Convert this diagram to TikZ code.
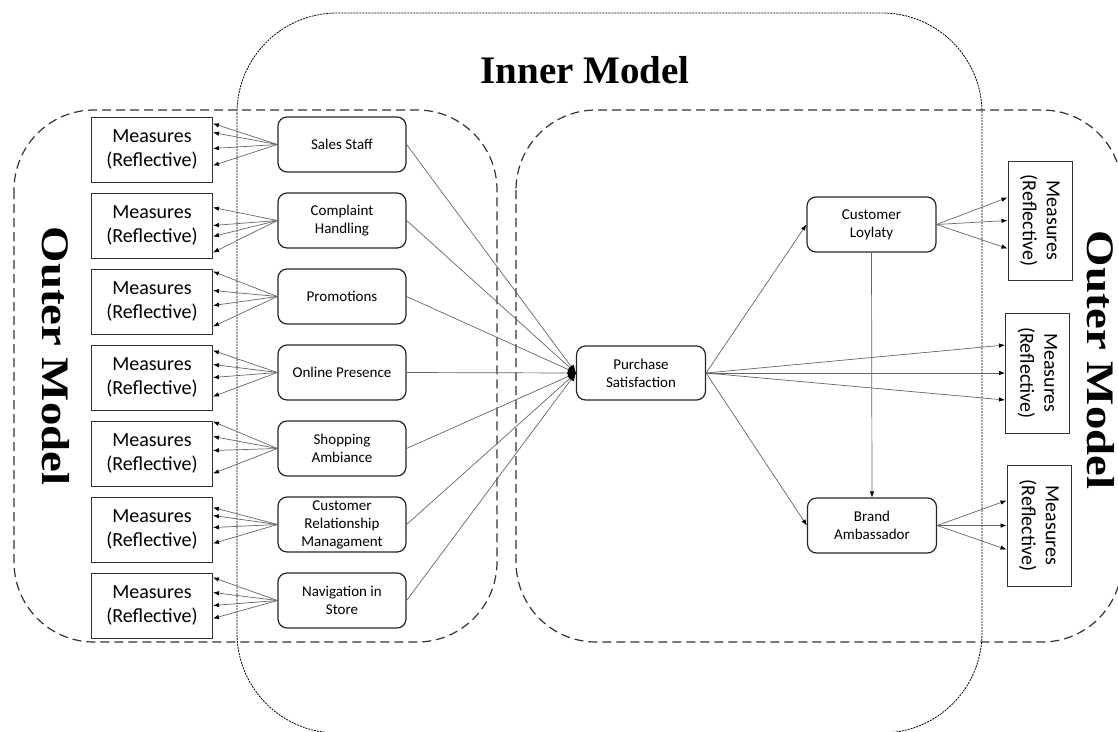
\documentclass[tikz,border=0pt]{standalone}
\usepackage{fontspec}
\setmainfont{Carlito}
\newfontfamily\titlefont{Liberation Serif}
\usetikzlibrary{arrows.meta}
\tikzset{
    measure/.style={draw=black!80, line width=1pt, fill=white, minimum width=121pt, minimum height=65pt,
            inner sep=0pt, align=center, font=\fontsize{20}{24}\selectfont},
    latent/.style={draw=black!85, line width=1.2pt, fill=white, rounded corners=9pt, minimum width=128pt,
            minimum height=55pt, inner sep=0pt, align=center, font=\fontsize{15}{18}\selectfont},
    link/.style={draw=black!60, line width=0.7pt, -{Latex[length=6pt,width=4.5pt,black]}},
    inpath/.style={link, -{Latex[length=8pt,width=7pt,black]}},
    outerbox/.style={draw=black!80, line width=1.2pt, dash pattern=on 9pt off 5pt, rounded corners=80pt},
    innerbox/.style={draw=black, line width=0.8pt, dash pattern=on 2pt off 1pt, rounded corners=100pt},
    modeltitle/.style={font=\titlefont\bfseries\fontsize{39}{39}\selectfont, inner sep=0pt}
}

\begin{document}
\begin{tikzpicture}[x=1pt,y=-1pt]

            \useasboundingbox (0,0) rectangle (1118,731);
            \clip (0,0) rectangle (1118,731);
            \fill[white] (0,0) rectangle (1118,731);

            % model regions
            \draw[innerbox] (237,13) rectangle (982,733);
            \draw[outerbox] (14,110) rectangle (497,642);
            \draw[outerbox] (516,110) rectangle (1122,642);

            \node[modeltitle] (inner) at (585,70) {Inner Model};
            \node[modeltitle, rotate=-90] (outerL) at (56,356) {\scalebox{1.2}[1]{Outer Model}};
            \node[modeltitle, rotate=-90] (outerR) at (1101,360) {\scalebox{1.2}[1]{Outer Model}};

            % left measures
            \node[measure] (m1) at (152,149.5) {Measures\\(Reflective)};
            \node[measure] (m2) at (152,225.5) {Measures\\(Reflective)};
            \node[measure] (m3) at (152,301.5) {Measures\\(Reflective)};
            \node[measure] (m4) at (152,377.5) {Measures\\(Reflective)};
            \node[measure] (m5) at (152,453.5) {Measures\\(Reflective)};
            \node[measure] (m6) at (152,529.5) {Measures\\(Reflective)};
            \node[measure] (m7) at (152,605.5) {Measures\\(Reflective)};

            % left constructs
            \node[latent] (sales) at (342,144.5) {Sales Staff};
            \node[latent] (complaint) at (342,220.5) {Complaint\\Handling};
            \node[latent] (promo) at (342,296.5) {Promotions};
            \node[latent] (online) at (342,372.5) {Online Presence};
            \node[latent] (ambiance) at (342,448.5) {Shopping\\Ambiance};
            \node[latent] (crm) at (342,524.5) {Customer\\Relationship\\Managament};
            \node[latent] (navigation) at (342,600.5) {Navigation in\\Store};

            % inner constructs
            \node[latent, minimum width=129pt, minimum height=54pt] (purchase) at (641,373) {Purchase\\Satisfaction};
            \node[latent, minimum width=129pt] (loyalty) at (871.5,224.5) {Customer\\Loylaty};
            \node[latent, minimum width=129pt] (ambassador) at (872,525.5) {Brand\\Ambassador};

            % right measures
            \node[measure, rotate=-90, minimum width=119pt, minimum height=64pt] (r1) at (1040,220.5) {Measures\\(Reflective)};
            \node[measure, rotate=-90, minimum width=120pt, minimum height=64pt] (r2) at (1037.5,373) {Measures\\(Reflective)};
            \node[measure, rotate=-90, minimum width=121pt, minimum height=64pt] (r3) at (1039,525.5) {Measures\\(Reflective)};

            % reflective indicators
            \foreach \src/\dst/\a/\b/\c/\d in {sales/m1/7/16/32/49, complaint/m2/15/33/44/60,
                    promo/m3/3/22/37/58, online/m4/6/20/33/52, ambiance/m5/1/16/30/53,
                    crm/m6/11/19/31/47, navigation/m7/5/20/33/46}
                \foreach \o in {\a,\b,\c,\d}
                    \draw[link] (\src.west) -- ([yshift=-\o pt]\dst.north east);

            \foreach \o in {23,0,-28}
                \draw[link] (loyalty.east) -- ([yshift=\o pt]r1.south);
            \foreach \o in {28,0,-27}
                \draw[link] (purchase.east) -- ([yshift=\o pt]r2.south);
            \foreach \o in {25,0,-24}
                \draw[link] (ambassador.east) -- ([yshift=\o pt]r3.south);

            % structural paths
            \draw[inpath] (sales.east) -- (purchase.west);
            \draw[inpath] (complaint.east) -- (purchase.west);
            \draw[inpath] (promo.east) -- (purchase.west);
            \draw[inpath] (online.east) -- (purchase.west);
            \draw[inpath] (ambiance.east) -- (purchase.west);
            \draw[inpath] (crm.east) -- (purchase.west);
            \draw[inpath] (navigation.east) -- (purchase.west);
            \draw[link] (purchase.east) -- (loyalty.west);
            \draw[link] (purchase.east) -- (ambassador.west);
            \draw[link] (loyalty.south) -- (ambassador.north);
        \end{tikzpicture}
\end{document}
